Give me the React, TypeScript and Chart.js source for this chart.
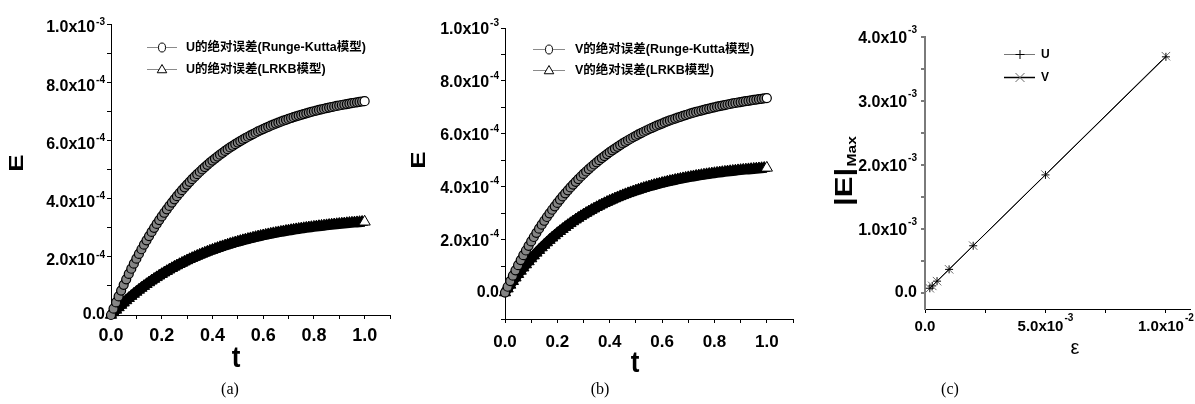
import React, { useEffect, useRef } from 'react';
import { Chart, registerables } from 'chart.js';

Chart.register(...registerables);

// ---------------- data ----------------
const T = [0, 0.01, 0.02, 0.03, 0.04, 0.05, 0.06, 0.07, 0.08, 0.09, 0.1, 0.11, 0.12, 0.13, 0.14, 0.15, 0.16, 0.17, 0.18, 0.19, 0.2, 0.21, 0.22, 0.23, 0.24, 0.25, 0.26, 0.27, 0.28, 0.29, 0.3, 0.31, 0.32, 0.33, 0.34, 0.35, 0.36, 0.37, 0.38, 0.39, 0.4, 0.41, 0.42, 0.43, 0.44, 0.45, 0.46, 0.47, 0.48, 0.49, 0.5, 0.51, 0.52, 0.53, 0.54, 0.55, 0.56, 0.57, 0.58, 0.59, 0.6, 0.61, 0.62, 0.63, 0.64, 0.65, 0.66, 0.67, 0.68, 0.69, 0.7, 0.71, 0.72, 0.73, 0.74, 0.75, 0.76, 0.77, 0.78, 0.79, 0.8, 0.81, 0.82, 0.83, 0.84, 0.85, 0.86, 0.87, 0.88, 0.89, 0.9, 0.91, 0.92, 0.93, 0.94, 0.95, 0.96, 0.97, 0.98, 0.99, 1.0];

// absolute errors, in units of 1e-4
const U_RK = [0, 0.219, 0.432, 0.639, 0.840, 1.036, 1.226, 1.411, 1.590, 1.765, 1.934, 2.099, 2.259, 2.415, 2.566, 2.713, 2.856, 2.995, 3.130, 3.261, 3.389, 3.513, 3.633, 3.750, 3.864, 3.975, 4.082, 4.187, 4.288, 4.387, 4.483, 4.576, 4.667, 4.755, 4.840, 4.923, 5.004, 5.083, 5.159, 5.233, 5.305, 5.376, 5.444, 5.510, 5.574, 5.637, 5.698, 5.757, 5.814, 5.870, 5.924, 5.977, 6.028, 6.078, 6.126, 6.173, 6.219, 6.263, 6.307, 6.349, 6.389, 6.429, 6.467, 6.505, 6.541, 6.577, 6.611, 6.644, 6.677, 6.708, 6.739, 6.769, 6.798, 6.826, 6.853, 6.880, 6.906, 6.931, 6.955, 6.979, 7.002, 7.025, 7.046, 7.068, 7.088, 7.108, 7.128, 7.147, 7.165, 7.183, 7.200, 7.217, 7.233, 7.249, 7.265, 7.280, 7.294, 7.309, 7.322, 7.336, 7.349];
const U_LRKB = [0, 0.089, 0.175, 0.260, 0.342, 0.422, 0.500, 0.576, 0.650, 0.722, 0.792, 0.861, 0.927, 0.992, 1.056, 1.117, 1.178, 1.236, 1.293, 1.349, 1.403, 1.456, 1.507, 1.557, 1.606, 1.654, 1.700, 1.745, 1.789, 1.832, 1.874, 1.915, 1.954, 1.993, 2.031, 2.067, 2.103, 2.138, 2.172, 2.205, 2.237, 2.268, 2.299, 2.329, 2.358, 2.386, 2.414, 2.441, 2.467, 2.492, 2.517, 2.541, 2.565, 2.588, 2.610, 2.632, 2.653, 2.674, 2.694, 2.714, 2.733, 2.752, 2.770, 2.788, 2.805, 2.822, 2.838, 2.854, 2.870, 2.885, 2.899, 2.914, 2.928, 2.942, 2.955, 2.968, 2.980, 2.993, 3.005, 3.016, 3.028, 3.039, 3.050, 3.060, 3.070, 3.080, 3.090, 3.100, 3.109, 3.118, 3.127, 3.135, 3.144, 3.152, 3.160, 3.167, 3.175, 3.182, 3.189, 3.196, 3.203];
const V_RK = [0, 0.219, 0.432, 0.639, 0.840, 1.036, 1.226, 1.411, 1.590, 1.765, 1.934, 2.099, 2.259, 2.415, 2.566, 2.713, 2.856, 2.995, 3.130, 3.261, 3.389, 3.513, 3.633, 3.750, 3.864, 3.975, 4.082, 4.187, 4.288, 4.387, 4.483, 4.576, 4.667, 4.755, 4.840, 4.923, 5.004, 5.083, 5.159, 5.233, 5.305, 5.376, 5.444, 5.510, 5.574, 5.637, 5.698, 5.757, 5.814, 5.870, 5.924, 5.977, 6.028, 6.078, 6.126, 6.173, 6.219, 6.263, 6.307, 6.349, 6.389, 6.429, 6.467, 6.505, 6.541, 6.577, 6.611, 6.644, 6.677, 6.708, 6.739, 6.769, 6.798, 6.826, 6.853, 6.880, 6.906, 6.931, 6.955, 6.979, 7.002, 7.025, 7.046, 7.068, 7.088, 7.108, 7.128, 7.147, 7.165, 7.183, 7.200, 7.217, 7.233, 7.249, 7.265, 7.280, 7.294, 7.309, 7.322, 7.337, 7.352];
const V_LRKB = [0, 0.147, 0.289, 0.427, 0.561, 0.691, 0.817, 0.940, 1.058, 1.174, 1.286, 1.394, 1.500, 1.602, 1.701, 1.797, 1.891, 1.982, 2.070, 2.155, 2.238, 2.318, 2.396, 2.472, 2.546, 2.617, 2.686, 2.754, 2.819, 2.882, 2.943, 3.003, 3.061, 3.117, 3.171, 3.224, 3.276, 3.325, 3.374, 3.421, 3.466, 3.510, 3.553, 3.595, 3.635, 3.674, 3.712, 3.749, 3.785, 3.820, 3.853, 3.886, 3.918, 3.949, 3.978, 4.007, 4.036, 4.063, 4.089, 4.115, 4.140, 4.164, 4.188, 4.211, 4.233, 4.254, 4.275, 4.295, 4.315, 4.334, 4.353, 4.371, 4.388, 4.405, 4.421, 4.437, 4.453, 4.468, 4.482, 4.496, 4.510, 4.523, 4.536, 4.549, 4.561, 4.573, 4.584, 4.595, 4.606, 4.617, 4.627, 4.637, 4.646, 4.655, 4.664, 4.673, 4.682, 4.690, 4.698, 4.706, 4.713];

// panel (c): max error vs epsilon, errors in units of 1e-3
const EPS = [0.0002, 0.0003, 0.0005, 0.001, 0.002, 0.005, 0.01];
const U_EMAX = [0.074, 0.111, 0.185, 0.369, 0.738, 1.845, 3.69];
const V_EMAX = [0.074, 0.111, 0.185, 0.370, 0.740, 1.850, 3.70];

const LEGEND_A = ['U的绝对误差(Runge-Kutta模型)', 'U的绝对误差(LRKB模型)'];
const LEGEND_B = ['V的绝对误差(Runge-Kutta模型)', 'V的绝对误差(LRKB模型)'];
const LEGEND_C = ['U', 'V'];
const CAPTIONS = ['(a)', '(b)', '(c)'];

// ---------------- helpers ----------------
const H = 404;
const SANS = '"Liberation Sans", Arial, "Noto Sans CJK SC", sans-serif';
const bold = (s: number) => `bold ${s}px ${SANS}`;

type Lab = { base: string; exp: string };
function sci(v: number): Lab {
  const r = +v.toPrecision(10);
  if (Math.abs(r) < 1e-15) return { base: '0.0', exp: '' };
  let e = Math.floor(Math.log10(Math.abs(r)));
  let m = r / Math.pow(10, e);
  if (+m.toFixed(1) >= 10) { m /= 10; e += 1; }
  return { base: m.toFixed(1) + 'x10', exp: String(e) };
}
function fixed(v: number): Lab { return { base: v.toFixed(1), exp: '' }; }
function isMajor(v: number, step: number) {
  const q = v / step;
  return Math.abs(q - Math.round(q)) < 1e-6;
}

function drawLabel(ctx: CanvasRenderingContext2D, p: Lab, x: number, y: number, align: string, size: number, sup: number, supDy: number) {
  ctx.font = bold(size);
  const wb = ctx.measureText(p.base).width;
  let ws = 0;
  if (p.exp) { ctx.font = bold(sup); ws = ctx.measureText(p.exp).width + 1; }
  const tot = wb + ws;
  const x0 = align === 'right' ? x - tot : x - tot / 2;
  ctx.textAlign = 'left';
  ctx.textBaseline = 'middle';
  ctx.font = bold(size);
  ctx.fillText(p.base, x0, y);
  if (p.exp) { ctx.font = bold(sup); ctx.fillText(p.exp, x0 + wb + 1, y + supDy); }
}

// text drawn centred at (x, y), optionally rotated and stretched along its own length
function drawText(ctx: CanvasRenderingContext2D, s: string, x: number, y: number, font: string, rot = 0, sx = 1, sy = 1) {
  ctx.save();
  ctx.translate(x, y);
  if (rot) ctx.rotate(rot);
  ctx.scale(sx, sy);
  ctx.font = font;
  ctx.textAlign = 'center';
  ctx.textBaseline = 'middle';
  ctx.fillStyle = '#000';
  ctx.fillText(s, 0, 0);
  ctx.restore();
}

function bandLegend(ctx: CanvasRenderingContext2D, labels: string[], rows: number[], lx0: number, lx1: number, mx: number, tx: number) {
  rows.forEach((y, i) => {
    ctx.save();
    ctx.strokeStyle = '#8a8a8a';
    ctx.lineWidth = 1;
    ctx.beginPath();
    ctx.moveTo(lx0, y + 0.5);
    ctx.lineTo(lx1, y + 0.5);
    ctx.stroke();
    ctx.strokeStyle = '#000';
    ctx.fillStyle = '#fff';
    ctx.beginPath();
    if (i === 0) ctx.ellipse(mx, y + 0.5, 3.5, 4.5, 0, 0, Math.PI * 2);
    else {
      const r = 5.5;
      ctx.moveTo(mx, y - r + 1);
      ctx.lineTo(mx + 0.866 * r, y + 0.5 * r + 1);
      ctx.lineTo(mx - 0.866 * r, y + 0.5 * r + 1);
      ctx.closePath();
    }
    ctx.fill();
    ctx.stroke();
    ctx.fillStyle = '#000';
    ctx.font = bold(12.5);
    ctx.textAlign = 'left';
    ctx.textBaseline = 'middle';
    ctx.fillText(labels[i], tx, y + 1);
    ctx.restore();
  });
}

const lastOr = (n: number, a: string, b: string) => (c: any) => (c.dataIndex === n - 1 ? a : b);

function bandSets(rk: number[], lr: number[]) {
  return [
    {
      label: 'RK',
      data: T.map((t, i) => ({ x: t, y: rk[i] * 1e-4 })),
      showLine: true, borderColor: '#1e1e1e', borderWidth: 8,
      pointStyle: 'circle', pointRadius: 4.5, pointBorderWidth: 1.2, pointBorderColor: '#000',
      pointBackgroundColor: lastOr(T.length, '#fff', '#858585'),
      clip: false,
    },
    {
      label: 'LRKB',
      data: T.map((t, i) => ({ x: t, y: lr[i] * 1e-4 })),
      showLine: true, borderColor: '#000', borderWidth: 10,
      pointStyle: 'triangle', pointRadius: 6.5, pointBorderWidth: 1, pointBorderColor: '#000',
      pointBackgroundColor: lastOr(T.length, '#fff', '#000'),
      clip: false,
    },
  ];
}

type AxisCfg = { min: number; max: number; step: number; major: number; fmt: (v: number) => Lab; size: number; sup: number; supDy: number; dy: number; gap: number; color: string; width: number };
type Panel = { left: number; width: number; area: { l: number; t: number; r: number; b: number }; x: AxisCfg; y: AxisCfg; datasets: any[]; extra: (ctx: CanvasRenderingContext2D) => void };

const YW = 40;
const XH = 20;

function axisOpts(a: AxisCfg, fit: (s: any) => void) {
  return {
    type: 'linear', min: a.min, max: a.max,
    ticks: { stepSize: a.step, display: false, includeBounds: false },
    grid: { display: true, drawOnChartArea: false, drawTicks: true, tickLength: 4, color: a.color, lineWidth: a.width },
    border: { display: true, color: a.color, width: a.width },
    afterFit: fit,
  };
}

function buildConfig(p: Panel): any {
  const decor = {
    id: 'decor',
    afterDraw(chart: any) {
      const ctx = chart.ctx as CanvasRenderingContext2D;
      const xs = chart.scales.x;
      const ys = chart.scales.y;
      const ca = chart.chartArea;
      ctx.save();
      ctx.fillStyle = '#000';
      for (const tk of ys.ticks) {
        if (!isMajor(tk.value, p.y.major)) continue;
        const lab = p.y.fmt(tk.value);
        const py = ys.getPixelForValue(tk.value) + (lab.exp ? p.y.dy : 0);
        drawLabel(ctx, lab, ca.left - p.y.gap, py, 'right', p.y.size, p.y.sup, p.y.supDy);
      }
      for (const tk of xs.ticks) {
        if (!isMajor(tk.value, p.x.major)) continue;
        const lab = p.x.fmt(tk.value);
        drawLabel(ctx, lab, xs.getPixelForValue(tk.value), ca.bottom + p.x.dy, 'center', p.x.size, p.x.sup, p.x.supDy);
      }
      p.extra(ctx);
      ctx.restore();
    },
  };
  return {
    type: 'scatter',
    data: { datasets: p.datasets },
    options: {
      animation: false,
      responsive: false,
      maintainAspectRatio: false,
      events: [],
      layout: {
        autoPadding: false,
        padding: { left: p.area.l - YW, top: p.area.t, right: p.width - p.area.r, bottom: H - p.area.b - XH },
      },
      plugins: { legend: { display: false }, tooltip: { enabled: false } },
      scales: {
        x: axisOpts(p.x, (s: any) => { s.height = XH; }),
        y: axisOpts(p.y, (s: any) => { s.width = YW; }),
      },
    },
    plugins: [decor],
  };
}

// ---------------- panels ----------------
const PANEL_A: Panel = {
  left: 0, width: 400,
  area: { l: 111, t: 24, r: 390, b: 315 },
  x: { min: 0, max: 1.1, step: 0.1, major: 0.2, fmt: fixed, size: 18, sup: 10, supDy: 0, dy: 21, gap: 0, color: '#000', width: 1 },
  y: { min: 0, max: 1e-3, step: 1e-4, major: 2e-4, fmt: sci, size: 16, sup: 10, supDy: -6, dy: 4, gap: 6, color: '#000', width: 1 },
  datasets: bandSets(U_RK, U_LRKB),
  extra: (ctx) => {
    drawText(ctx, 'E', 17, 163, bold(20), -Math.PI / 2, 1.3, 1);
    drawText(ctx, 't', 236, 359, bold(26), 0, 1, 1.1);
    bandLegend(ctx, LEGEND_A, [47, 69], 147, 177, 162, 186);
  },
};

const PANEL_B: Panel = {
  left: 400, width: 400,
  area: { l: 105, t: 28, r: 393, b: 319 },
  x: { min: 0, max: 1.1, step: 0.1, major: 0.2, fmt: fixed, size: 17, sup: 10, supDy: 0, dy: 23, gap: 0, color: '#000', width: 1 },
  y: { min: -1e-4, max: 1e-3, step: 1e-4, major: 2e-4, fmt: sci, size: 16, sup: 10, supDy: -7, dy: 2, gap: 6, color: '#000', width: 1 },
  datasets: bandSets(V_RK, V_LRKB),
  extra: (ctx) => {
    drawText(ctx, 'E', 19, 160, bold(20), -Math.PI / 2, 1.3, 1);
    drawText(ctx, 't', 235, 364, bold(26), 0, 1, 1.1);
    bandLegend(ctx, LEGEND_B, [49, 70], 133, 165, 149, 175);
  },
};

const PANEL_C: Panel = {
  left: 800, width: 395,
  area: { l: 125, t: 37, r: 390, b: 309 },
  x: { min: 0, max: 0.011, step: 0.0025, major: 0.005, fmt: sci, size: 15, sup: 10, supDy: -9, dy: 18, gap: 0, color: '#000', width: 1 },
  y: { min: -0.25e-3, max: 4e-3, step: 0.5e-3, major: 1e-3, fmt: sci, size: 16, sup: 10, supDy: -8, dy: 1.5, gap: 8, color: '#7a7a7a', width: 2 },
  datasets: [
    {
      label: 'U',
      data: EPS.map((e, i) => ({ x: e, y: U_EMAX[i] * 1e-3 })),
      showLine: true, borderColor: '#000', borderWidth: 1,
      pointStyle: 'cross', pointRadius: 4, pointBorderWidth: 1, pointBorderColor: '#000',
      clip: false,
    },
    {
      label: 'V',
      data: EPS.map((e, i) => ({ x: e, y: V_EMAX[i] * 1e-3 })),
      showLine: true, borderColor: '#000', borderWidth: 1,
      pointStyle: 'crossRot', pointRadius: 6, pointBorderWidth: 1, pointBorderColor: '#6a6a6a',
      clip: false,
    },
  ],
  extra: (ctx) => {
    // |E|_Max rotated title (reads bottom to top)
    ctx.save();
    ctx.translate(52, 206);
    ctx.rotate(-Math.PI / 2);
    ctx.scale(1.3, 1);
    ctx.fillStyle = '#000';
    ctx.textAlign = 'left';
    ctx.textBaseline = 'alphabetic';
    ctx.font = bold(24);
    ctx.fillText('|E|', 0, 0);
    const w = ctx.measureText('|E|').width;
    ctx.font = bold(12);
    ctx.fillText('Max', w + 1, 4);
    ctx.restore();
    drawText(ctx, 'ε', 275, 348, `20px ${SANS}`);
    // legend
    ctx.save();
    ctx.strokeStyle = '#777';
    ctx.lineWidth = 1;
    ctx.beginPath(); ctx.moveTo(204, 54.5); ctx.lineTo(235, 54.5); ctx.stroke();
    ctx.strokeStyle = '#000';
    ctx.beginPath(); ctx.moveTo(220, 50); ctx.lineTo(220, 59); ctx.moveTo(215.5, 54.5); ctx.lineTo(224.5, 54.5); ctx.stroke();
    ctx.lineWidth = 1.5;
    ctx.beginPath(); ctx.moveTo(204, 77.5); ctx.lineTo(235, 77.5); ctx.stroke();
    ctx.strokeStyle = '#6a6a6a';
    ctx.lineWidth = 1;
    ctx.beginPath(); ctx.moveTo(215.5, 73); ctx.lineTo(224.5, 82); ctx.moveTo(224.5, 73); ctx.lineTo(215.5, 82); ctx.stroke();
    ctx.fillStyle = '#000';
    ctx.font = bold(12);
    ctx.textAlign = 'left';
    ctx.textBaseline = 'middle';
    ctx.fillText(LEGEND_C[0], 241, 55);
    ctx.fillText(LEGEND_C[1], 241, 78);
    ctx.restore();
  },
};

function PanelChart({ panel }: { panel: Panel }) {
  const ref = useRef<HTMLCanvasElement>(null);
  useEffect(() => {
    const chart = new Chart(ref.current as HTMLCanvasElement, buildConfig(panel));
    return () => chart.destroy();
  }, [panel]);
  return (
    <canvas
      ref={ref}
      width={panel.width}
      height={H}
      style={{ position: 'absolute', left: panel.left, top: 0, width: panel.width, height: H }}
    />
  );
}

const CAPTION_X = [230, 600, 950];

export default function App() {
  return (
    <div style={{ position: 'absolute', left: 0, top: 0, width: 1195, height: H, background: '#fff', overflow: 'hidden' }}>
      <PanelChart panel={PANEL_A} />
      <PanelChart panel={PANEL_B} />
      <PanelChart panel={PANEL_C} />
      {CAPTIONS.map((c, i) => (
        <div
          key={c}
          style={{ position: 'absolute', left: CAPTION_X[i] - 30, width: 60, top: 380, textAlign: 'center', font: '16px "Liberation Serif", "Times New Roman", serif', lineHeight: '18px', color: '#000' }}
        >
          {c}
        </div>
      ))}
    </div>
  );
}
